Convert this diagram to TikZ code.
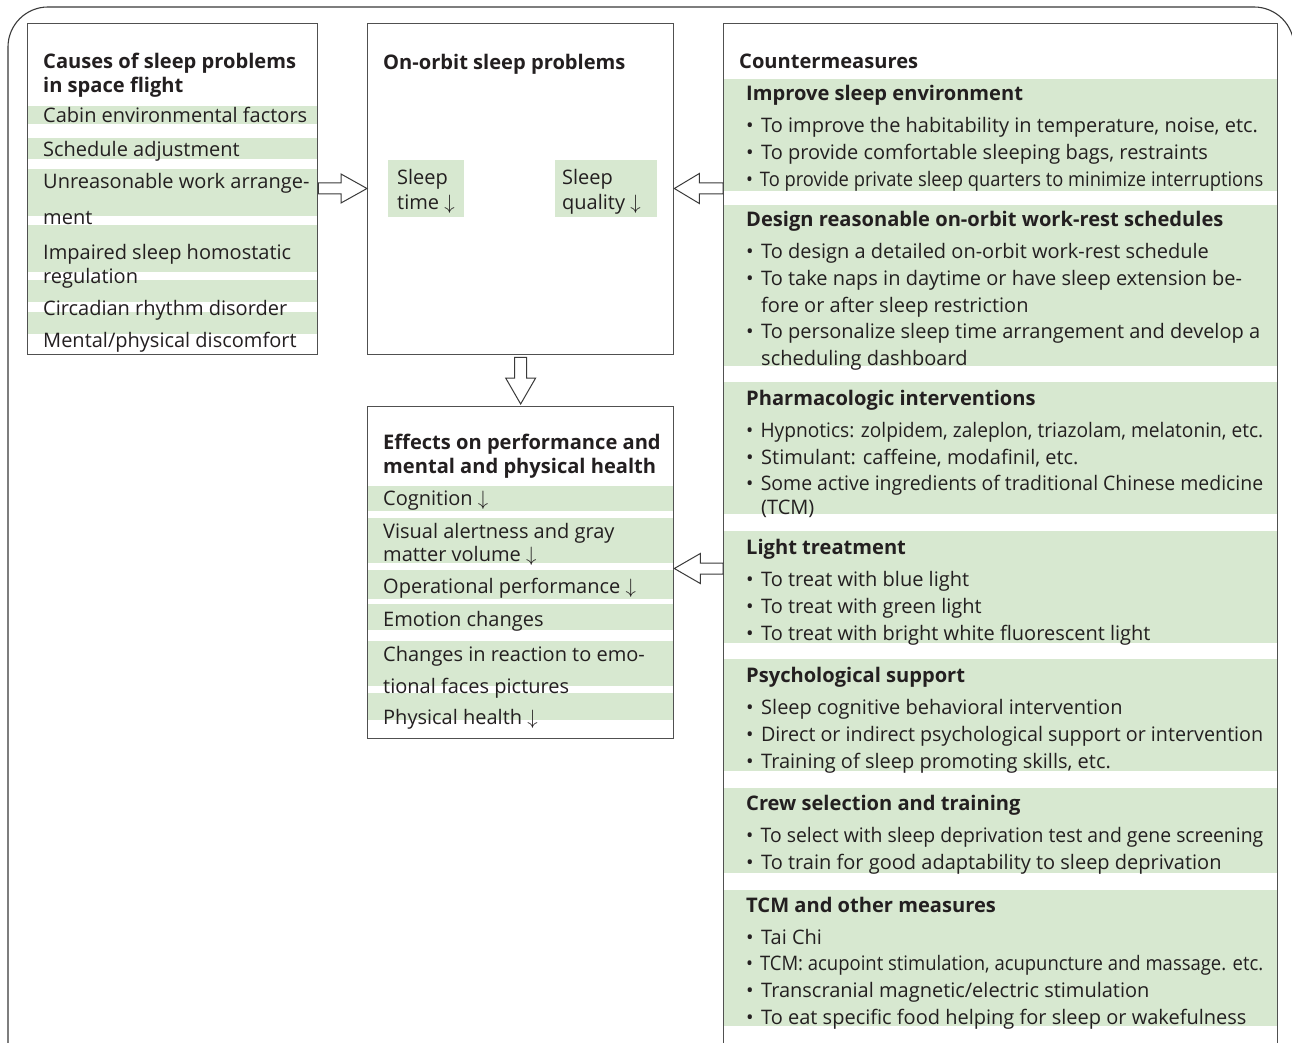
\documentclass[tikz,border=0pt]{standalone}
\usepackage{fontspec}
\usepackage{graphicx}
\setmainfont{Open Sans}
\usetikzlibrary{calc}
\definecolor{bandgreen}{HTML}{D7E8D0}
\definecolor{txtc}{HTML}{231F20}
\definecolor{boxline}{HTML}{505050}
\definecolor{outerline}{HTML}{3A3A3A}
\newsavebox\fitbox
\newcommand\Fit[2]{\sbox\fitbox{#2}\ifdim\wd\fitbox>#1\relax\resizebox{#1}{\height}{\usebox\fitbox}\else\usebox\fitbox\fi}
\newcommand\Tline[5][txt]{\node[#1] (#2) at (#3,#4) {#5};}
\newcommand\Bul[1]{\Fit{517pt}{\makebox[15pt][l]{•}#1}}
\newcommand\Cont[1]{\hspace*{15pt}#1}
\newcommand\dn{ $\downarrow$}
\begin{document}
\begin{tikzpicture}[x=1pt,y=-1pt,
  txt/.style={anchor=west,inner sep=0pt,yshift=-3pt,text=txtc,font=\fontsize{20}{24}\selectfont,text height=14pt,text depth=4pt},
  hd/.style={txt,font=\bfseries\fontsize{20.1}{24}\selectfont},
  rtxt/.style={txt},
  rhd/.style={hd},
  bandfill/.style={fill=bandgreen,draw=none},
  framebox/.style={draw=boxline,line width=1.3pt,anchor=north west,inner sep=0pt},
  greenbox/.style={fill=bandgreen,draw=none,anchor=north west,inner sep=0pt},
  blockarrow/.style={draw=outerline,fill=white,line width=1pt,line join=miter}]
\useasboundingbox (0,0) rectangle (1292,1043);
\fill[white] (0,0) rectangle (1292,1043);
% outer frame
\draw[outerline,line width=1.1pt,rounded corners=40] (8,1100) -- (8,7) -- (1294,7) -- (1294,1100);
% bands: causes
\foreach \a/\b in {106/124,138/159,169/216,225/272,280/302,312/334}
  \fill[bandfill] (27,\a) rectangle (317,\b);
% bands: effects
\foreach \a/\b in {486/511,518/563,570/599,604/630,641/686,693/720}
  \fill[bandfill] (367,\a) rectangle (673,\b);
% bands: countermeasures
\foreach \a/\b in {79/191,205/366,382/514,531/643,659/771,788/873,890/1026}
  \fill[bandfill] (723,\a) rectangle (1277,\b);
% boxes
\node[framebox,minimum width=290,minimum height=331] (causes) at (27,23) {};
\node[framebox,minimum width=306,minimum height=331] (orbit) at (367,23) {};
\node[framebox,minimum width=306,minimum height=332] (effects) at (367,406) {};
\node[framebox,minimum width=554,minimum height=1060] (counter) at (723,23) {};
\node[greenbox,minimum width=76,minimum height=57] (sleeptime) at (388,160) {};
\node[greenbox,minimum width=102,minimum height=57] (sleepqual) at (555,160) {};
% causes texts
\Tline[hd]{c0}{43}{61}{Causes of sleep problems}
\Tline[hd]{c0b}{43}{85}{in space flight}
\Tline{c1}{43}{115}{Cabin environmental factors}
\Tline{c2}{43}{149}{Schedule adjustment}
\Tline{c3}{43}{181}{Unreasonable work arrange-}
\Tline{c3b}{43}{216}{ment}
\Tline{c4}{43}{251}{Impaired sleep homostatic}
\Tline{c4b}{43}{275}{regulation}
\Tline{c5}{43}{307}{Circadian rhythm disorder}
\Tline{c6}{43}{339}{Mental/physical discomfort}
% orbit texts
\Tline[hd]{o0}{383}{62}{On-orbit sleep problems}
\Tline{o1}{397}{177}{Sleep}
\Tline{o1b}{397}{201}{time\dn}
\Tline{o2}{562}{177}{Sleep}
\Tline{o2b}{562}{201}{quality\dn}
% effects texts
\Tline[hd]{e0}{383}{441}{Effects on performance and}
\Tline[hd]{e0b}{383}{465}{mental and physical health}
\Tline{e1}{383}{497}{Cognition\dn}
\Tline{e2}{383}{530}{Visual alertness and gray}
\Tline{e2b}{383}{553}{matter volume\dn}
\Tline{e3}{383}{585}{Operational performance\dn}
\Tline{e4}{383}{618}{Emotion changes}
\Tline{e5}{383}{653}{Changes in reaction to emo-}
\Tline{e5b}{383}{685}{tional faces pictures}
\Tline{e6}{383}{716}{Physical health\dn}
% countermeasures texts
\Tline[rhd]{m0}{739}{61}{Countermeasures}
\Tline[rhd]{h1}{746}{93}{Improve sleep environment}
\Tline[rtxt]{h1a}{746}{125}{\Bul{To improve the habitability in temperature, noise, etc.}}
\Tline[rtxt]{h1b}{746}{152}{\Bul{To provide comfortable sleeping bags, restraints}}
\Tline[rtxt]{h1c}{746}{178}{\Bul{To provide private sleep quarters to minimize interruptions}}
\Tline[rhd]{h2}{746}{218}{Design reasonable on-orbit work-rest schedules}
\Tline[rtxt]{h2a}{746}{250}{\Bul{To design a detailed on-orbit work-rest schedule}}
\Tline[rtxt]{h2b}{746}{277}{\Bul{To take naps in daytime or have sleep extension be-}}
\Tline[rtxt]{h2c}{746}{304}{\Cont{fore or after sleep restriction}}
\Tline[rtxt]{h2d}{746}{330}{\Bul{To personalize sleep time arrangement and develop a}}
\Tline[rtxt]{h2e}{746}{357}{\Cont{scheduling dashboard}}
\Tline[rhd]{h3}{746}{397}{Pharmacologic interventions}
\Tline[rtxt]{h3a}{746}{429}{\Bul{Hypnotics: zolpidem, zaleplon, triazolam, melatonin, etc.}}
\Tline[rtxt]{h3b}{746}{456}{\Bul{Stimulant: caffeine, modafinil, etc.}}
\Tline[rtxt]{h3c}{746}{482}{\Bul{Some active ingredients of traditional Chinese medicine}}
\Tline[rtxt]{h3d}{746}{506}{\Cont{(TCM)}}
\Tline[rhd]{h4}{746}{546}{Light treatment}
\Tline[rtxt]{h4a}{746}{578}{\Bul{To treat with blue light}}
\Tline[rtxt]{h4b}{746}{605}{\Bul{To treat with green light}}
\Tline[rtxt]{h4c}{746}{632}{\Bul{To treat with bright white fluorescent light}}
\Tline[rhd]{h5}{746}{674}{Psychological support}
\Tline[rtxt]{h5a}{746}{706}{\Bul{Sleep cognitive behavioral intervention}}
\Tline[rtxt]{h5b}{746}{733}{\Bul{Direct or indirect psychological support or intervention}}
\Tline[rtxt]{h5c}{746}{760}{\Bul{Training of sleep promoting skills, etc.}}
\Tline[rhd]{h6}{746}{802}{Crew selection and training}
\Tline[rtxt]{h6a}{746}{834}{\Bul{To select with sleep deprivation test and gene screening}}
\Tline[rtxt]{h6b}{746}{861}{\Bul{To train for good adaptability to sleep deprivation}}
\Tline[rhd]{h7}{746}{904}{TCM and other measures}
\Tline[rtxt]{h7a}{746}{936}{\Bul{Tai Chi}}
\Tline[rtxt]{h7b}{746}{962}{\Bul{TCM: acupoint stimulation, acupuncture and massage. etc.}}
\Tline[rtxt]{h7c}{746}{989}{\Bul{Transcranial magnetic/electric stimulation}}
\Tline[rtxt]{h7d}{746}{1016}{\Bul{To eat specific food helping for sleep or wakefulness}}
% block arrows
\coordinate (a1s) at (causes.east |- 0,188.5);
\coordinate (a1t) at (orbit.west |- 0,188.5);
\draw[blockarrow] ($(a1s)+(0,-5.5)$) -- ($(a1t)+(-26,-5.5)$) -- ($(a1t)+(-26,-14.5)$) -- (a1t)
  -- ($(a1t)+(-26,14.5)$) -- ($(a1t)+(-26,5.5)$) -- ($(a1s)+(0,5.5)$) -- cycle;
\coordinate (a2s) at (counter.west |- 0,188.5);
\coordinate (a2t) at (orbit.east |- 0,188.5);
\draw[blockarrow] ($(a2s)+(0,-5.5)$) -- ($(a2t)+(25,-5.5)$) -- ($(a2t)+(25,-15)$) -- (a2t)
  -- ($(a2t)+(25,15)$) -- ($(a2t)+(25,5.5)$) -- ($(a2s)+(0,5.5)$) -- cycle;
\coordinate (a3s) at (counter.west |- 0,568.5);
\coordinate (a3t) at (effects.east |- 0,568.5);
\draw[blockarrow] ($(a3s)+(0,-5.5)$) -- ($(a3t)+(26,-5.5)$) -- ($(a3t)+(26,-15)$) -- (a3t)
  -- ($(a3t)+(26,15)$) -- ($(a3t)+(26,5.5)$) -- ($(a3s)+(0,5.5)$) -- cycle;
\coordinate (a4s) at ($(orbit.south)+(0,2)$);
\coordinate (a4t) at ($(effects.north)+(0,-2)$);
\draw[blockarrow] ($(a4s)+(-6,0)$) -- ($(a4t)+(-6,-26)$) -- ($(a4t)+(-15,-26)$) -- (a4t)
  -- ($(a4t)+(15,-26)$) -- ($(a4t)+(6,-26)$) -- ($(a4s)+(6,0)$) -- cycle;
\end{tikzpicture}
\end{document}
